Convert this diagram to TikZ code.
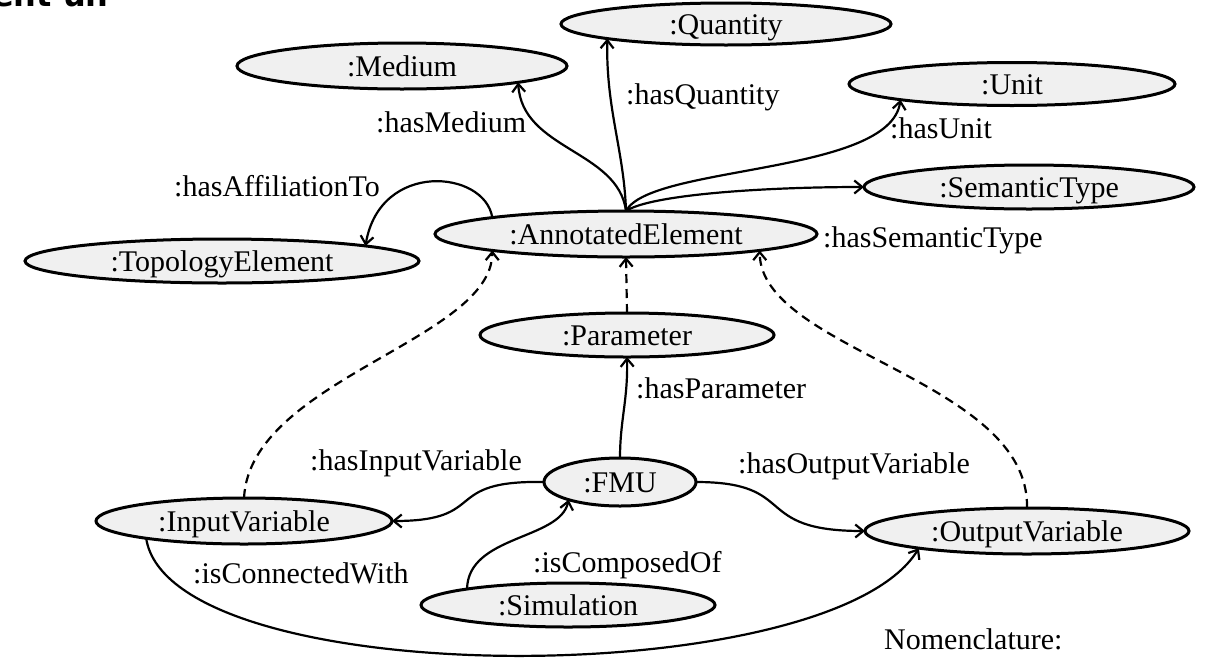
\documentclass[tikz,border=0pt]{standalone}
\usepackage{fontspec}
\setmainfont{Liberation Serif}
\newfontfamily\headfont{DejaVu Sans}
\usetikzlibrary{shapes.geometric,arrows.meta}
\definecolor{nodefill}{HTML}{F0F0F0}
\begin{document}
\begin{tikzpicture}[x=1pt,y=-1pt,
  cls/.style={ellipse, draw, line width=3pt, fill=nodefill, inner sep=0pt, outer sep=0pt,
    text height=21pt, text depth=1pt, font=\fontsize{30}{36}\selectfont},
  rel/.style={line width=2.2pt, -{Straight Barb[length=8pt,width=13pt]}},
  sub/.style={rel, dash pattern=on 9pt off 6pt},
  lbl/.style={anchor=base west, inner sep=0pt, font=\fontsize{30}{36}\selectfont}]
\useasboundingbox (0,0) rectangle (1212,659);

% heading cut by the top edge of the page
\begin{scope}
  \clip (0,0) rectangle (1212,659);
  \node[anchor=base west, inner sep=0pt, font=\headfont\bfseries\fontsize{32}{32}\selectfont] (heading) at (-8,6) {ent un};
\end{scope}

% classes
\node[cls, minimum width=330pt, minimum height=42pt] (quantity) at (726,24) {:Quantity};
\node[cls, minimum width=330pt, minimum height=46pt] (medium)   at (402,66) {:Medium};
\node[cls, minimum width=326pt, minimum height=43pt] (unit)     at (1012,84) {:Unit};
\node[cls, minimum width=330pt, minimum height=44pt] (semtype)  at (1029,187) {:SemanticType};
\node[cls, minimum width=382pt, minimum height=46pt] (ae)       at (626,234) {:AnnotatedElement};
\node[cls, minimum width=394pt, minimum height=44pt] (topo)     at (222,261) {:TopologyElement};
\node[cls, minimum width=294pt, minimum height=44pt] (param)    at (627,335) {:Parameter};
\node[cls, minimum width=152pt, minimum height=48pt] (fmu)      at (620,482) {:FMU};
\node[cls, minimum width=296pt, minimum height=46pt] (invar)    at (244,521) {:InputVariable};
\node[cls, minimum width=324pt, minimum height=46pt] (outvar)   at (1027,531) {:OutputVariable};
\node[cls, minimum width=294pt, minimum height=44pt] (sim)      at (568,605) {:Simulation};

% relation labels
\node[lbl] (lmedium)   at (376,132) {:hasMedium};
\node[lbl] (lquantity) at (626,104) {:hasQuantity};
\node[lbl] (lunit)     at (890,138) {:hasUnit};
\node[lbl] (laffil)    at (174,196) {:hasAffiliationTo};
\node[lbl] (lsemtype)  at (823,247) {:hasSemanticType};
\node[lbl] (lparam)    at (636,398) {:hasParameter};
\node[lbl] (linvar)    at (310,470) {:hasInputVariable};
\node[lbl] (loutvar)   at (738,473) {:hasOutputVariable};
\node[lbl] (lconn)     at (193,583) {:isConnectedWith};
\node[lbl] (lcomp)     at (533,572) {:isComposedOf};
\node[lbl] (lnom)      at (884,649) {Nomenclature:};

% properties of the annotated element
\draw[rel] (ae.north) .. controls (618,150) and (522,150) .. (medium.-8.5);
\draw[rel] (ae.north) .. controls (624,150) and (606,110) .. (quantity.-173);
\draw[rel] (ae.north) .. controls (650,165) and (890,175) .. (unit.-172);
\draw[rel] (ae.north) .. controls (650,195) and (760,187) .. (semtype.west);
\draw[rel] (ae.173) .. controls (485,170) and (380,160) .. (topo.6.6);

% subclass links
\draw[sub] (param.north) -- (ae.south);
\draw[sub] (invar.north) .. controls (250,380) and (492,340) .. (ae.-173);
\draw[sub] (outvar.north) .. controls (1030,380) and (760,350) .. (ae.-7);

% FMU structure
\draw[rel] (fmu.north) .. controls (620,420) and (628,400) .. (param.south);
\draw[rel] (fmu.west) .. controls (440,480) and (490,521) .. (invar.east);
\draw[rel] (fmu.east) .. controls (800,482) and (750,531) .. (outvar.west);
\draw[rel] (sim.171) .. controls (468,535) and (560,540) .. (fmu.-161);
\draw[rel] (invar.-170.6) .. controls (170,693) and (830,693) .. (outvar.-171);
\end{tikzpicture}
\end{document}
